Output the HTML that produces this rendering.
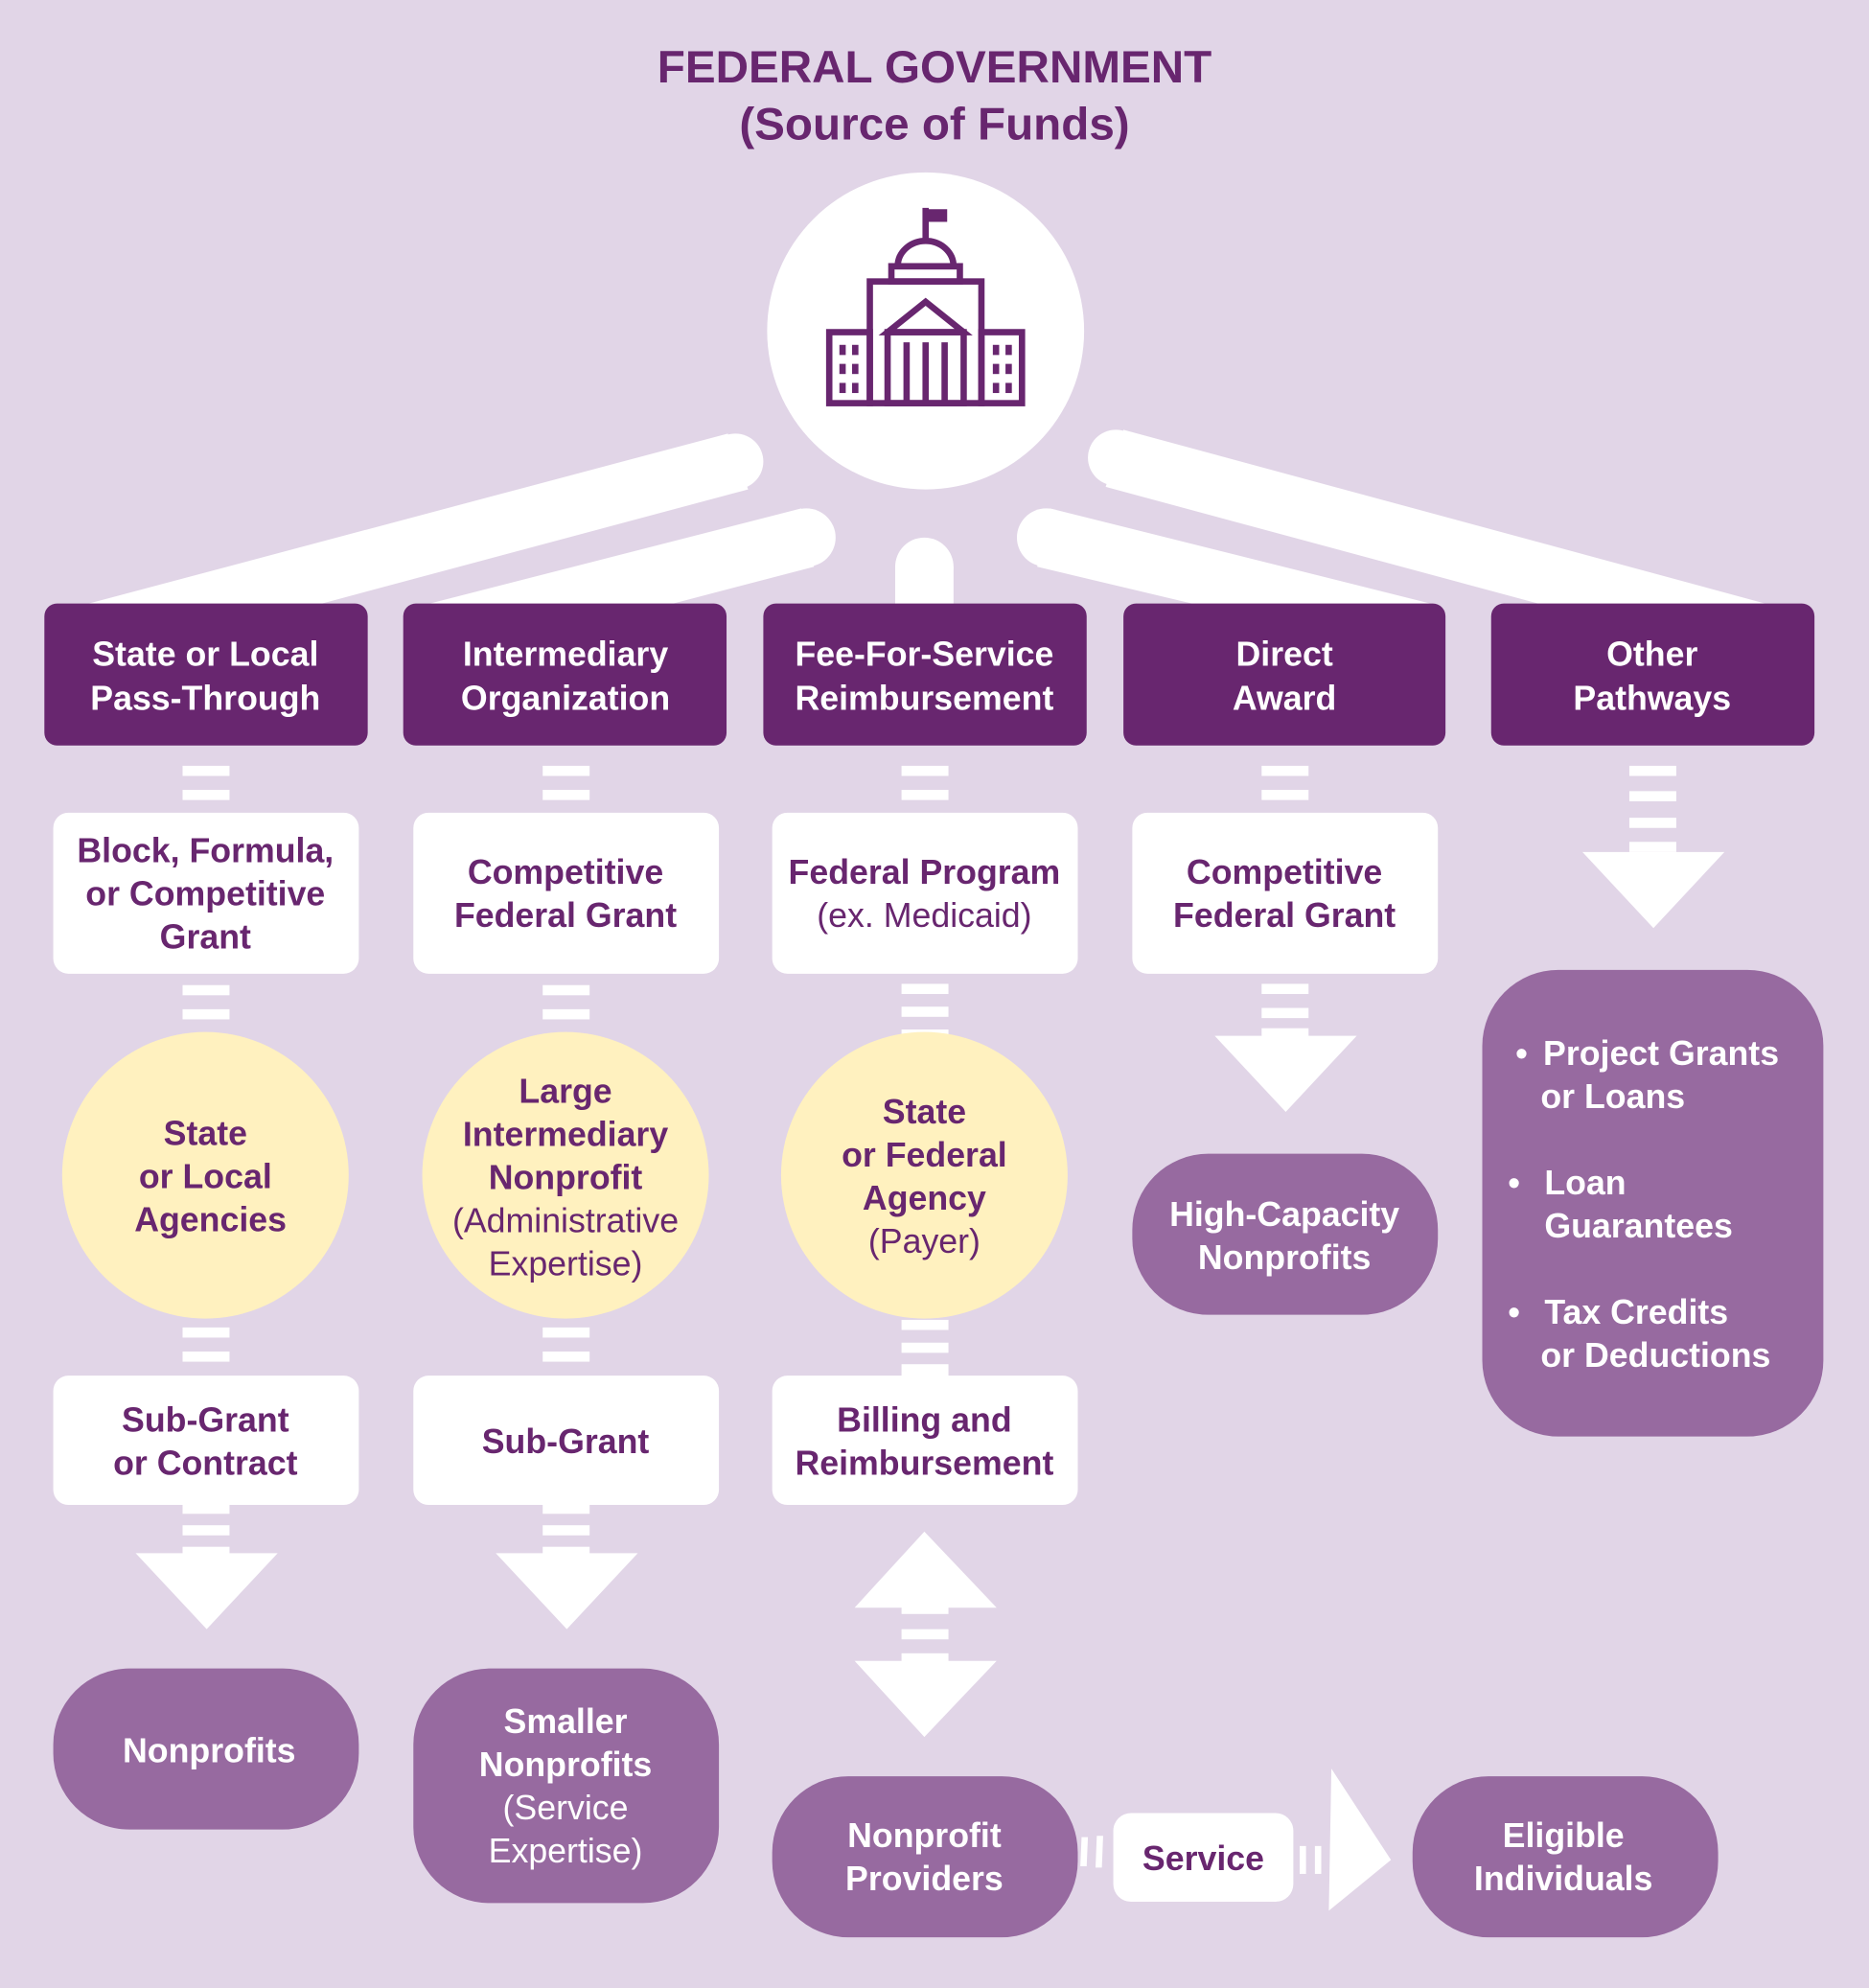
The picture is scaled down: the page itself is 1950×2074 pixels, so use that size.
<!DOCTYPE html>
<html><head><meta charset="utf-8"><style>
html,body{margin:0;padding:0;background:#e1d5e7;}
svg{display:block}
text{font-family:"Liberation Sans",Arial,sans-serif;text-anchor:middle;}
.w{fill:#fff;font-weight:bold;font-size:27px}
.p{fill:#68266f;font-weight:bold;font-size:27px}
.pn{fill:#68266f;font-size:27px}
.wn{fill:#fff;font-size:27px}
</style></head><body>
<svg width="1950" height="2074" viewBox="0 0 1474 1568" preserveAspectRatio="none" xmlns="http://www.w3.org/2000/svg">
<rect width="1474" height="1568" fill="#e1d5e7"/>
<text x="737" y="65" style="font-size:36px;font-weight:bold;fill:#68266f">FEDERAL GOVERNMENT</text>
<text x="737" y="110" style="font-size:36px;font-weight:bold;fill:#68266f">(Source of Funds)</text>

<!-- beams -->
<g fill="#fff">
<polygon points="574,342 590,386 254,476 70,476"/><circle cx="580" cy="364" r="22"/>
<polygon points="632,401 642,447 531,476 339,476"/><circle cx="636" cy="424" r="23"/>
<rect x="706" y="447" width="46" height="30"/><circle cx="729" cy="447" r="23"/>
<polygon points="828,401 818,447 940,476 1128,476"/><circle cx="825" cy="424" r="23"/>
<polygon points="886,339 872,384 1213,476 1392,476"/><circle cx="880" cy="361" r="22"/>
</g>
<circle cx="730" cy="261" r="125" fill="#fff"/>
<!-- building icon -->
<g fill="none" stroke="#68266f" stroke-width="5">
<line x1="730" y1="164" x2="730" y2="192"/>
<rect x="730" y="165" width="17" height="10" fill="#68266f" stroke="none"/>
<path d="M708,210 A22,20 0 0 1 752,210 Z"/>
<rect x="703" y="210" width="54" height="12"/>
<rect x="686" y="222" width="88" height="96"/>
<polygon points="700,262 730,238 760,262"/>
<rect x="700" y="262" width="60" height="56"/>
<line x1="715" y1="270" x2="715" y2="318"/><line x1="730" y1="270" x2="730" y2="318"/><line x1="745" y1="270" x2="745" y2="318"/>
<rect x="654" y="262" width="32" height="56"/><rect x="774" y="262" width="32" height="56"/>
</g>
<g fill="#68266f">
<rect x="662" y="272" width="5" height="8"/><rect x="672" y="272" width="5" height="8"/>
<rect x="662" y="287" width="5" height="8"/><rect x="672" y="287" width="5" height="8"/>
<rect x="662" y="302" width="5" height="8"/><rect x="672" y="302" width="5" height="8"/>
<rect x="783" y="272" width="5" height="8"/><rect x="793" y="272" width="5" height="8"/>
<rect x="783" y="287" width="5" height="8"/><rect x="793" y="287" width="5" height="8"/>
<rect x="783" y="302" width="5" height="8"/><rect x="793" y="302" width="5" height="8"/>
</g>

<!-- row1 boxes -->
<g fill="#68266f">
<rect x="35" y="476" width="255" height="112" rx="10"/>
<rect x="318" y="476" width="255" height="112" rx="10"/>
<rect x="602" y="476" width="255" height="112" rx="10"/>
<rect x="886" y="476" width="254" height="112" rx="10"/>
<rect x="1176" y="476" width="255" height="112" rx="10"/>
</g>
<text class="w" x="162" y="525">State or Local</text><text class="w" x="162" y="560">Pass-Through</text>
<text class="w" x="446" y="525">Intermediary</text><text class="w" x="446" y="560">Organization</text>
<text class="w" x="729" y="525">Fee-For-Service</text><text class="w" x="729" y="560">Reimbursement</text>
<text class="w" x="1013" y="525">Direct</text><text class="w" x="1013" y="560">Award</text>
<text class="w" x="1303" y="525">Other</text><text class="w" x="1303" y="560">Pathways</text>

<!-- dashes -->
<g fill="#fff">
<rect x="144" y="604" width="37" height="8"/><rect x="144" y="623" width="37" height="8"/>
<rect x="428" y="604" width="37" height="8"/><rect x="428" y="623" width="37" height="8"/>
<rect x="711" y="604" width="37" height="8"/><rect x="711" y="623" width="37" height="8"/>
<rect x="995" y="604" width="37" height="8"/><rect x="995" y="623" width="37" height="8"/>
<rect x="1285" y="604" width="37" height="8"/><rect x="1285" y="624" width="37" height="8"/><rect x="1285" y="645" width="37" height="8"/><rect x="1285" y="664" width="37" height="8"/>
<polygon points="1248,672 1360,672 1304,732"/>
<!-- row2 to circles -->
<rect x="144" y="777" width="37" height="8"/><rect x="144" y="796" width="37" height="8"/>
<rect x="428" y="777" width="37" height="8"/><rect x="428" y="796" width="37" height="8"/>
<rect x="711" y="776" width="37" height="8"/><rect x="711" y="794" width="37" height="8"/><rect x="711" y="812" width="37" height="8"/>
<rect x="995" y="776" width="37" height="8"/><rect x="995" y="795" width="37" height="8"/><rect x="995" y="811" width="37" height="8"/>
<polygon points="958,817 1070,817 1014,877"/>
<!-- circles to row3 -->
<rect x="144" y="1047" width="37" height="8"/><rect x="144" y="1066" width="37" height="8"/>
<rect x="428" y="1047" width="37" height="8"/><rect x="428" y="1066" width="37" height="8"/>
<rect x="711" y="1041" width="37" height="8"/><rect x="711" y="1059" width="37" height="8"/><rect x="711" y="1076" width="37" height="10"/>
<!-- row3 down -->
<rect x="144" y="1186" width="37" height="8"/><rect x="144" y="1203" width="37" height="8"/><rect x="144" y="1220" width="37" height="6"/>
<polygon points="107,1225 219,1225 163,1285"/>
<rect x="428" y="1186" width="37" height="8"/><rect x="428" y="1203" width="37" height="8"/><rect x="428" y="1220" width="37" height="6"/>
<polygon points="391,1225 503,1225 447,1285"/>
<polygon points="729,1208 786,1268 674,1268"/><rect x="711" y="1267" width="37" height="6"/>
<rect x="711" y="1285" width="37" height="8"/>
<rect x="711" y="1304" width="37" height="7"/>
<polygon points="674,1310 786,1310 729,1370"/>
</g>

<!-- row2 boxes -->
<g fill="#fff">
<rect x="42" y="641" width="241" height="127" rx="12"/>
<rect x="326" y="641" width="241" height="127" rx="12"/>
<rect x="609" y="641" width="241" height="127" rx="12"/>
<rect x="893" y="641" width="241" height="127" rx="12"/>
</g>
<text class="p" x="162" y="680">Block, Formula,</text><text class="p" x="162" y="714">or Competitive</text><text class="p" x="162" y="748">Grant</text>
<text class="p" x="446" y="697">Competitive</text><text class="p" x="446" y="731">Federal Grant</text>
<text class="p" x="729" y="697">Federal Program</text><text class="pn" x="729" y="731">(ex. Medicaid)</text>
<text class="p" x="1013" y="697">Competitive</text><text class="p" x="1013" y="731">Federal Grant</text>

<!-- other pathways box -->
<rect x="1169" y="765" width="269" height="368" rx="60" fill="#976aa0"/>
<text class="w" x="1200" y="840">•</text><text class="w" x="1217" y="840" style="text-anchor:start">Project Grants</text><text class="w" x="1215" y="874" style="text-anchor:start">or Loans</text>
<text class="w" x="1194" y="942">•</text><text class="w" x="1218" y="942" style="text-anchor:start">Loan</text><text class="w" x="1218" y="976" style="text-anchor:start">Guarantees</text>
<text class="w" x="1194" y="1044">•</text><text class="w" x="1218" y="1044" style="text-anchor:start">Tax Credits</text><text class="w" x="1215" y="1078" style="text-anchor:start">or Deductions</text>

<!-- circles -->
<g fill="#fff1bf">
<circle cx="162" cy="927" r="113"/><circle cx="446" cy="927" r="113"/><circle cx="729" cy="927" r="113"/>
</g>
<text class="p" x="162" y="903">State</text><text class="p" x="162" y="937">or Local</text><text class="p" x="166" y="971">Agencies</text>
<text class="p" x="446" y="870">Large</text><text class="p" x="446" y="904">Intermediary</text><text class="p" x="446" y="938">Nonprofit</text><text class="pn" x="446" y="972">(Administrative</text><text class="pn" x="446" y="1006">Expertise)</text>
<text class="p" x="729" y="886">State</text><text class="p" x="729" y="920">or Federal</text><text class="p" x="729" y="954">Agency</text><text class="pn" x="729" y="988">(Payer)</text>

<rect x="893" y="910" width="241" height="127" rx="60" fill="#976aa0"/>
<text class="w" x="1013" y="967">High-Capacity</text><text class="w" x="1013" y="1001">Nonprofits</text>

<!-- row3 boxes -->
<g fill="#fff">
<rect x="42" y="1085" width="241" height="102" rx="12"/>
<rect x="326" y="1085" width="241" height="102" rx="12"/>
<rect x="609" y="1085" width="241" height="102" rx="12"/>
</g>
<text class="p" x="162" y="1129">Sub-Grant</text><text class="p" x="162" y="1163">or Contract</text>
<text class="p" x="446" y="1146">Sub-Grant</text>
<text class="p" x="729" y="1129">Billing  and</text><text class="p" x="729" y="1163">Reimbursement</text>

<!-- row4 -->
<g fill="#976aa0">
<rect x="42" y="1316" width="241" height="127" rx="60"/>
<rect x="326" y="1316" width="241" height="185" rx="60"/>
<rect x="609" y="1401" width="241" height="127" rx="60"/>
<rect x="1114" y="1401" width="241" height="127" rx="60"/>
</g>
<text class="w" x="165" y="1390">Nonprofits</text>
<text class="w" x="446" y="1367">Smaller</text><text class="w" x="446" y="1401">Nonprofits</text><text class="wn" x="446" y="1435">(Service</text><text class="wn" x="446" y="1469">Expertise)</text>
<text class="w" x="729" y="1457">Nonprofit</text><text class="w" x="729" y="1491">Providers</text>
<text class="w" x="1233" y="1457">Eligible</text><text class="w" x="1233" y="1491">Individuals</text>

<rect x="878" y="1430" width="142" height="70" rx="14" fill="#fff"/>
<text class="p" x="949" y="1475">Service</text>
<g fill="#fff">
<polygon points="853,1449 858,1449 857,1472 852,1472"/>
<polygon points="865,1448 870,1448 869,1473 864,1473"/>
<polygon points="1025,1456 1030,1456 1030,1478 1025,1478"/>
<polygon points="1037,1456 1042,1456 1042,1478 1037,1478"/>
<polygon points="1050,1395 1097,1467 1048,1507"/>
</g>
</svg>
</body></html>
